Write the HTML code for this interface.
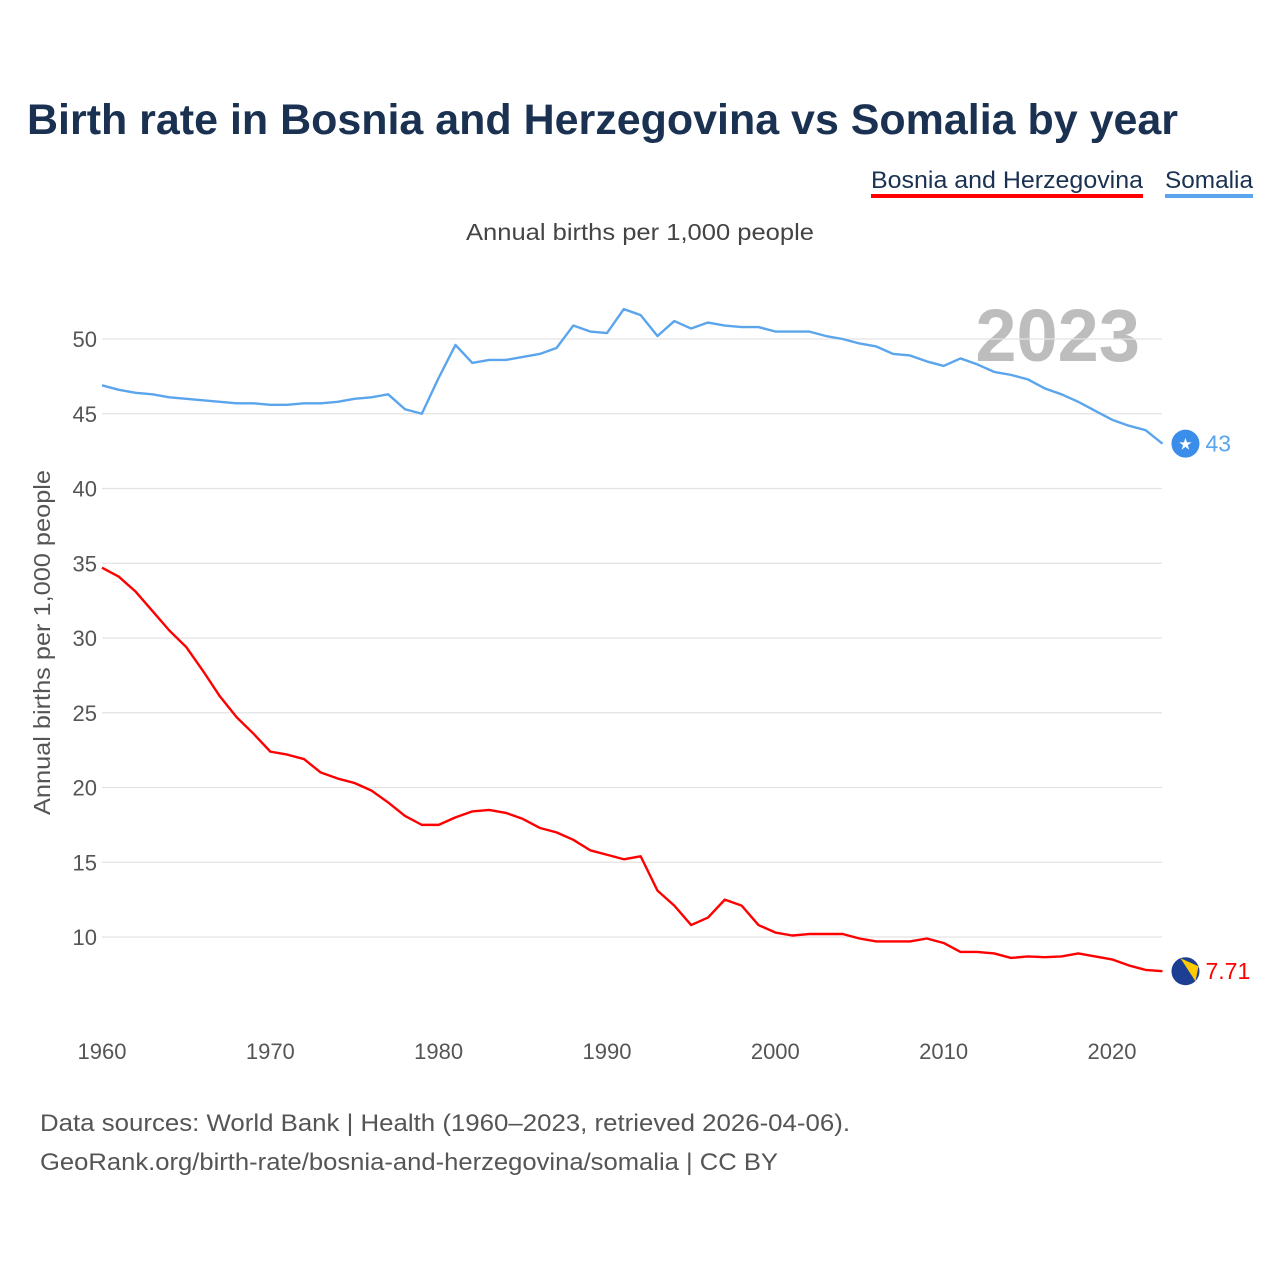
<!DOCTYPE html>
<html><head><meta charset="utf-8"><style>
body{margin:0;background:#fff;width:1280px;height:1280px;overflow:hidden;font-family:"Liberation Sans",sans-serif}
</style></head><body>
<svg width="1280" height="1280" xmlns="http://www.w3.org/2000/svg">
<text x="27" y="134" font-size="43" font-weight="bold" fill="#1a3151" textLength="1151" lengthAdjust="spacingAndGlyphs">Birth rate in Bosnia and Herzegovina vs Somalia by year</text>
<g>
<text x="871" y="188" font-size="24" fill="#1a3151" textLength="272" lengthAdjust="spacingAndGlyphs">Bosnia and Herzegovina</text>
<rect x="871" y="194" width="272" height="4" fill="#ff0000"/>
<text x="1165" y="188" font-size="24" fill="#1a3151" textLength="88" lengthAdjust="spacingAndGlyphs">Somalia</text>
<rect x="1165" y="194" width="88" height="4" fill="#5aa5ec"/>
</g>
<text x="466" y="240" font-size="23" fill="#444" textLength="348" lengthAdjust="spacingAndGlyphs">Annual births per 1,000 people</text>
<text x="1140" y="361" font-size="74" font-weight="bold" fill="#bdbdbd" text-anchor="end">2023</text>
<text transform="translate(50,815) rotate(-90)" font-size="23" fill="#555" textLength="345" lengthAdjust="spacingAndGlyphs">Annual births per 1,000 people</text>
<g id="grid"></g><g id="xt"></g><g id="lines"></g>
<text x="40" y="1131" font-size="24" fill="#555" textLength="810" lengthAdjust="spacingAndGlyphs">Data sources: World Bank | Health (1960–2023, retrieved 2026-04-06).</text>
<text x="40" y="1170" font-size="24" fill="#555" textLength="738" lengthAdjust="spacingAndGlyphs">GeoRank.org/birth-rate/bosnia-and-herzegovina/somalia | CC BY</text>
</svg>
<script>
const years=[];for(let y=1960;y<=2023;y++)years.push(y);
const somalia=[46.9,46.6,46.4,46.3,46.1,46.0,45.9,45.8,45.7,45.7,45.6,45.6,45.7,45.7,45.8,46.0,46.1,46.3,45.3,45.0,47.4,49.6,48.4,48.6,48.6,48.8,49.0,49.4,50.9,50.5,50.4,52.0,51.6,50.2,51.2,50.7,51.1,50.9,50.8,50.8,50.5,50.5,50.5,50.2,50.0,49.7,49.5,49.0,48.9,48.5,48.2,48.7,48.3,47.8,47.6,47.3,46.7,46.3,45.8,45.2,44.6,44.2,43.9,43.0];
const bosnia=[34.7,34.1,33.1,31.8,30.5,29.4,27.8,26.1,24.7,23.6,22.4,22.2,21.9,21.0,20.6,20.3,19.8,19.0,18.1,17.5,17.5,18.0,18.4,18.5,18.3,17.9,17.3,17.0,16.5,15.8,15.5,15.2,15.4,13.1,12.1,10.8,11.3,12.5,12.1,10.8,10.3,10.1,10.2,10.2,10.2,9.9,9.7,9.7,9.7,9.9,9.6,9.0,9.0,8.9,8.6,8.7,8.65,8.7,8.9,8.7,8.5,8.1,7.8,7.71];
const yTicks=[10,15,20,25,30,35,40,45,50];
const xTicks=[1960,1970,1980,1990,2000,2010,2020];
const NS="http://www.w3.org/2000/svg";
const X=y=>102+(y-1960)*16.833;
const Y=v=>339+(50-v)*14.95;
function mk(tag,at,parent){const e=document.createElementNS(NS,tag);for(const k in at)e.setAttribute(k,at[k]);document.getElementById(parent).appendChild(e);return e;}
yTicks.forEach(v=>{
 const l=mk('line',{x1:102,x2:1162,y1:Y(v),y2:Y(v),stroke:'#e3e3e3','stroke-width':1.2},'grid');
 
 
 const t=mk('text',{x:97,y:Y(v)+8,'font-size':22,fill:'#555','text-anchor':'end'},'grid');
 t.textContent=v;
 
 
});
xTicks.forEach(v=>{
 const t=mk('text',{x:X(v),y:1059,'font-size':22,fill:'#555','text-anchor':'middle'},'xt');
 t.textContent=v;
 
 
});
function line(data,color,name){
 const p=mk('polyline',{points:data.map((v,i)=>X(years[i])+','+Y(v)).join(' '),fill:'none',stroke:color,'stroke-width':2.4,'stroke-linejoin':'round'},'lines');
 
 
}
line(somalia,'#5aa5ec','somalia-line');
line(bosnia,'#ff0000','bosnia-line');
const sl=somalia[somalia.length-1],bl=bosnia[bosnia.length-1];
const xe=X(2023)+23;
const m1=mk('circle',{cx:xe,cy:Y(sl),r:14,fill:'#3a8de8'},'lines');


const s1=mk('text',{x:xe,y:Y(sl)+6,'font-size':16,fill:'#fff','text-anchor':'middle'},'lines');s1.textContent='★';


const l1=mk('text',{x:xe+20,y:Y(sl)+8,'font-size':23,fill:'#5aa5ec'},'lines');l1.textContent=sl;


const m2=mk('circle',{cx:xe,cy:Y(bl),r:14,fill:'#1c3f94'},'lines');


const tri=mk('path',{d:`M${xe-5},${Y(bl)-13} L${xe+13},${Y(bl)-5} L${xe+10},${Y(bl)+10} Z`,fill:'#fecb00'},'lines');


const l2=mk('text',{x:xe+20,y:Y(bl)+8,'font-size':23,fill:'#ff0000'},'lines');l2.textContent=bl;


</script>
</body></html>
